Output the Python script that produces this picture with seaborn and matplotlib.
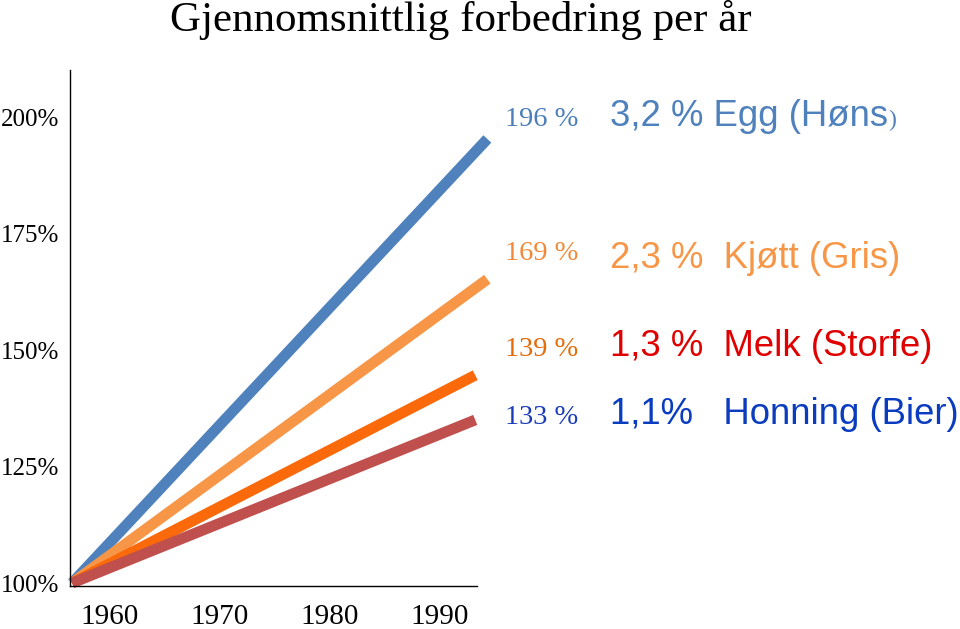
import matplotlib
matplotlib.use("Agg")
import matplotlib.pyplot as plt
import pandas as pd
import seaborn as sns

# -----------------------------
# Data
# -----------------------------
series = ["Egg", "Kjøtt", "Melk", "Honning"]
start_year = [1956.55, 1956.55, 1956.55, 1956.55]
end_year = [1994.3, 1994.3, 1993.2, 1993.2]
start_value = [100, 100, 100, 100]
end_value = [195.3, 165.2, 144.6, 135.0]

end_labels = ["196 %", "169 %", "139 %", "133 %"]
rate_labels = ["3,2 % Egg (Høns", "2,3 %  Kjøtt (Gris)", "1,3 %  Melk (Storfe)", "1,1%   Honning (Bier)"]

x_ticks = [1960, 1970, 1980, 1990]
y_ticks = [100, 125, 150, 175, 200]
y_tick_labels = ["100%", "125%", "150%", "175%", "200%"]

line_colors = ["#4f81bd", "#f79646", "#fa6a0a", "#c0504d"]
end_label_colors = ["#4a7ebb", "#f08a3a", "#e46c0a", "#1a3cb8"]
rate_colors = ["#4f81bd", "#f79646", "#e00000", "#0a3cc0"]

# long table for seaborn
rows = []
for name, x0, x1, v0, v1 in zip(series, start_year, end_year, start_value, end_value):
    rows.append({"series": name, "year": x0, "value": v0})
    rows.append({"series": name, "year": x1, "value": v1})
df = pd.DataFrame(rows)

# -----------------------------
# Style
# -----------------------------
sns.set_style("white")
plt.rcParams["font.family"] = ["Liberation Serif", "DejaVu Serif"]
plt.rcParams["text.color"] = "black"
plt.rcParams["xtick.color"] = "black"
plt.rcParams["ytick.color"] = "black"

W, H = 960, 629
fig = plt.figure(figsize=(W / 100, H / 100), dpi=100)
ax = fig.add_axes([70 / W, (H - 586) / H, (477 - 70) / W, (586 - 70) / H])

sns.lineplot(
    data=df, x="year", y="value", hue="series",
    palette=dict(zip(series, line_colors)), hue_order=series,
    linewidth=7.8, legend=False, ax=ax, sort=False,
)
for line in ax.get_lines():
    line.set_solid_capstyle("butt")
    line.set_clip_on(False)

ax.set_xlim(1956.36, 1993.36)
ax.set_ylim(99.36, 210.1)
ax.set_xticks(x_ticks)
ax.set_xticklabels([str(t) for t in x_ticks], fontsize=21)
ax.set_yticks(y_ticks)
ax.set_yticklabels(y_tick_labels, fontsize=18)
ax.tick_params(axis="both", length=0, colors="black")
ax.tick_params(axis="y", pad=8)
ax.tick_params(axis="x", pad=13)
ax.set_xlabel("")
ax.set_ylabel("")
sns.despine(ax=ax)
for side in ["left", "bottom"]:
    ax.spines[side].set_color("black")
    ax.spines[side].set_linewidth(1.0)

# -----------------------------
# Title and labels
# -----------------------------
fig.text(461 / W, 1 - 20 / H, "Gjennomsnittlig forbedring per år",
         ha="center", va="center", fontsize=31, color="black")

end_label_y = [120, 253, 350, 418]
rate_label_y = [116, 258, 346, 415]
rate_texts = []
for lab, col, yy in zip(end_labels, end_label_colors, end_label_y):
    fig.text(505 / W, 1 - yy / H, lab, ha="left", va="center",
             fontsize=20.5, color=col)
for lab, col, yy in zip(rate_labels, rate_colors, rate_label_y):
    t = fig.text(610 / W, 1 - yy / H, lab, ha="left", va="center",
                 fontsize=26.3, color=col, family=["Liberation Sans", "DejaVu Sans"])
    rate_texts.append(t)

# the small closing bracket after "Høns"
fig.canvas.draw()
bb = rate_texts[0].get_window_extent()
fig.text(bb.x1 / W, 1 - 120 / H, ")", ha="left", va="center",
         fontsize=17, color=rate_colors[0])

fig.savefig("out.png", dpi=100)
